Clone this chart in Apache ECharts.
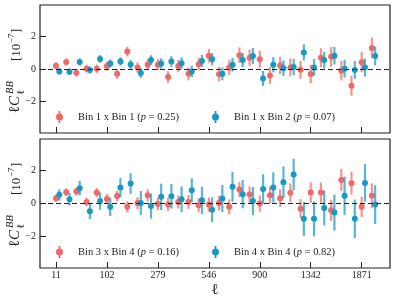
<!DOCTYPE html>
<html><head><meta charset="utf-8">
<script src="https://cdn.jsdelivr.net/npm/echarts@6/dist/echarts.min.js"></script>
<style>html,body{margin:0;padding:0;background:#fff}#c{width:396px;height:303px}</style>
</head><body><div id="c"></div>
<script>
// bin index (x position); tick labels are multipole ell values
const bins = [0,1,2,3,4,5,6,7,8,9,10,11,12,13,14,15,16,17,18,19,20,21,22,23,24,25,26,27,28,29,30,31];
const tickBins = [0,5,10,15,20,25,30];
const tickLabels = ['11','102','279','546','900','1342','1871'];
const yTicks = [-2,0,2];

const names = ['Bin 1 x Bin 1 (p = 0.25)','Bin 1 x Bin 2 (p = 0.07)','Bin 3 x Bin 4 (p = 0.16)','Bin 4 x Bin 4 (p = 0.82)'];

// top panel
const b11 = [0.2,0.43,-0.23,0.02,0.02,0.18,-0.3,1.08,0.09,0.26,0.26,-0.5,0.18,-0.3,0.3,0.82,-0.32,0.09,0.85,0.7,0.6,-0.4,0.22,0.09,-0.05,-0.31,0.7,0.75,-0.11,-1.03,0.42,1.3];
const b11e = [0.22,0.22,0.24,0.25,0.26,0.27,0.3,0.3,0.32,0.34,0.35,0.36,0.38,0.4,0.4,0.42,0.45,0.46,0.48,0.5,0.52,0.52,0.54,0.55,0.56,0.57,0.58,0.6,0.6,0.62,0.62,0.64];
const b12 = [-0.15,-0.17,0.43,-0.06,0.62,0.34,0.47,0.28,-0.25,0.55,0.34,0.46,0.36,-0.15,0.5,0.6,-0.3,0.26,0.55,0.8,-0.58,0.26,0.05,0.12,1.02,0.1,0.55,0.82,0.02,-0.06,0.09,0.8];
const b12e = [0.2,0.2,0.22,0.22,0.24,0.25,0.26,0.27,0.3,0.3,0.32,0.33,0.35,0.36,0.37,0.38,0.4,0.42,0.44,0.5,0.46,0.47,0.48,0.5,0.5,0.52,0.52,0.54,0.55,0.55,0.56,0.58];
// bottom panel
const b34 = [0.3,0.66,0.7,0.07,0.65,0.25,0.43,-0.23,0.0,0.47,-0.05,-0.08,0.07,0.07,-0.13,-0.09,0.0,-0.23,0.82,0.52,-0.03,0.48,0.3,0.63,-0.34,0.64,0.64,-0.44,1.41,1.21,-0.23,0.44];
const b34e = [0.22,0.24,0.25,0.27,0.28,0.3,0.32,0.34,0.36,0.38,0.38,0.4,0.4,0.42,0.42,0.44,0.45,0.46,0.46,0.5,0.5,0.52,0.54,0.56,0.58,0.62,0.62,0.64,0.66,0.7,0.62,0.76];
const b44 = [0.5,0.23,0.91,-0.49,0.12,-0.23,0.95,1.19,0.01,-0.18,0.38,0.42,0.23,0.78,0.17,-0.4,0.28,0.99,0.54,0.12,0.85,0.95,1.27,1.74,-0.96,-0.96,-0.3,-0.58,0.44,-0.96,1.23,-0.09];
const b44e = [0.34,0.38,0.45,0.48,0.52,0.56,0.6,0.63,0.73,0.76,0.8,0.75,0.78,0.73,0.83,0.76,0.82,0.91,0.86,0.86,0.9,0.92,0.96,0.96,1.04,1.06,1.06,1.1,1.17,1.17,1.14,1.18];

const RED = '#EE6A68', BLUE = '#1A98BF';
const SERIF = '"Liberation Serif", "DejaVu Serif", serif';

function errSeries(name, vals, errs, color, g, off) {
  return {
    type: 'custom', name, xAxisIndex: g, yAxisIndex: g,
    data: bins.map((b, i) => [b, vals[i], errs[i]]),
    encode: { x: 0, y: 1 },
    itemStyle: { color },
    renderItem(params, api) {
      const x = api.value(0), y = api.value(1), e = api.value(2);
      const p = api.coord([x, y]), lo = api.coord([x, y - e]), hi = api.coord([x, y + e]);
      const px = p[0] + off;
      return { type: 'group', children: [
        { type: 'line', shape: { x1: px, y1: lo[1], x2: px, y2: hi[1] }, style: { stroke: color, lineWidth: 2.2, opacity: 0.72 } },
        { type: 'circle', shape: { cx: px, cy: p[1], r: 3 }, style: { fill: color } }
      ]};
    }
  };
}

function xAxis(g, labels) {
  return {
    type: 'value', gridIndex: g, min: -1.57, max: 32.78, position: 'bottom',
    axisLine: { show: false, onZero: false }, splitLine: { show: false },
    axisTick: { show: true, inside: true, length: 6, customValues: tickBins, lineStyle: { color: '#222', width: 1 } },
    axisLabel: { show: labels, customValues: tickBins, margin: 2, fontFamily: SERIF, fontSize: 10, color: '#222',
      formatter: v => tickLabels[tickBins.indexOf(Math.round(v))] || '' }
  };
}
function yAxis(g, mn, mx) {
  return {
    type: 'value', gridIndex: g, min: mn, max: mx, position: 'left',
    axisLine: { show: false, onZero: false }, splitLine: { show: false },
    axisTick: { show: true, inside: true, length: 6, customValues: yTicks, lineStyle: { color: '#222', width: 1 } },
    axisLabel: { customValues: yTicks, margin: 4, fontFamily: SERIF, fontSize: 10, color: '#222',
      formatter: v => v < 0 ? '\u2212' + Math.abs(v) : String(v) }
  };
}

const icon = 'path://M2.6,0L4.4,0L4.4,12L2.6,12Z M0,6A3.5,3.5,0,1,1,7,6A3.5,3.5,0,1,1,0,6Z';
function legend(name, left, top) {
  return {
    data: [name], left, top, padding: 0, icon, itemWidth: 7, itemHeight: 12,
    textStyle: { fontFamily: SERIF, fontSize: 10.5, color: '#222',
      rich: { sp: { width: 10 }, t: { fontFamily: SERIF, fontSize: 10.5, color: '#222' },
              i: { fontFamily: SERIF, fontSize: 10.5, fontStyle: 'italic', color: '#222' } } },
    formatter: n => { const m = n.match(/^(.*)\(p( = [\d.]+\))$/); return '{sp|}{t|' + m[1] + '(}{i|p}{t|' + m[2] + '}'; }
  };
}

function zeroLine() {
  return { silent: true, symbol: 'none', label: { show: false },
    lineStyle: { color: '#222', type: [5, 3], width: 1.2 }, data: [{ yAxis: 0 }] };
}

function yLabel(cy) {
  const c = '#222';
  return { type: 'group', x: 23, y: cy, rotation: Math.PI / 2, children: [
    { type: 'text', x: -44, y: 0, style: { text: '\u2113', font: '15px ' + SERIF, fill: c, verticalAlign: 'bottom' } },
    { type: 'text', x: -37, y: 0, style: { text: 'C', font: 'italic 15px ' + SERIF, fill: c, verticalAlign: 'bottom' } },
    { type: 'text', x: -25, y: -7, style: { text: 'BB', font: 'italic 10.5px ' + SERIF, fill: c, verticalAlign: 'bottom' } },
    { type: 'text', x: -26, y: 4, style: { text: '\u2113', font: '10.5px ' + SERIF, fill: c, verticalAlign: 'bottom' } },
    { type: 'text', x: 8, y: 0, style: { text: '[10', font: '13px ' + SERIF, fill: c, verticalAlign: 'bottom' } },
    { type: 'text', x: 26, y: -7, style: { text: '\u22127', font: '9px ' + SERIF, fill: c, verticalAlign: 'bottom' } },
    { type: 'text', x: 36, y: 0, style: { text: ']', font: '13px ' + SERIF, fill: c, verticalAlign: 'bottom' } }
  ]};
}

const s1 = errSeries(names[0], b11, b11e, RED, 0, 0);
s1.markLine = zeroLine();
const s2 = errSeries(names[1], b12, b12e, BLUE, 0, 3.3);
const s3 = errSeries(names[2], b34, b34e, RED, 1, 0);
s3.markLine = zeroLine();
const s4 = errSeries(names[3], b44, b44e, BLUE, 1, 3.3);

const option = {
  animation: false,
  grid: [
    { left: 40, top: 5, width: 350, height: 128, show: true, borderColor: '#222', borderWidth: 1.2, backgroundColor: 'transparent' },
    { left: 40, top: 139, width: 350, height: 129, show: true, borderColor: '#222', borderWidth: 1.2, backgroundColor: 'transparent' }
  ],
  xAxis: [xAxis(0, false), xAxis(1, true)],
  yAxis: [yAxis(0, -3.95, 3.95), yAxis(1, -3.95, 3.9)],
  legend: [legend(names[0], 56, 111), legend(names[1], 212, 111), legend(names[2], 56, 246), legend(names[3], 212, 246)],
  graphic: [
    yLabel(69), yLabel(203),
    { type: 'text', x: 215, y: 290, style: { text: '\u2113', font: '15px ' + SERIF, fill: '#222', align: 'center', verticalAlign: 'middle' } }
  ],
  series: [s1, s2, s3, s4]
};
const chart = echarts.init(document.getElementById('c'), null, { renderer: 'canvas' });
chart.setOption(option);
</script></body></html>
